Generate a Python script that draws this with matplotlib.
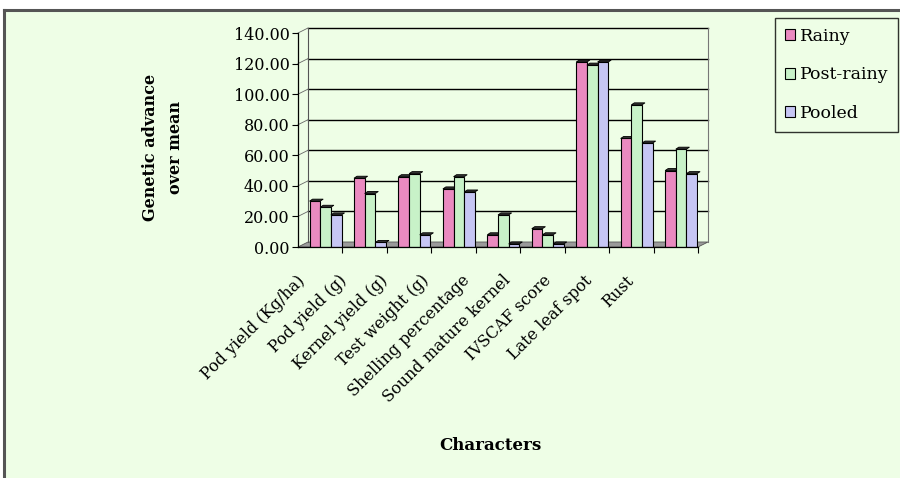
import numpy as np
import matplotlib.pyplot as plt
from matplotlib.patches import Rectangle, Polygon

categories = ["Pod yield (Kg/ha)", "Pod yield (g)", "Kernel yield (g)", "Test weight (g)",
              "Shelling percentage", "Sound mature kernel", "IVSCAF score",
              "Late leaf spot", "Rust"]
seasons = ["Rainy", "Post-rainy", "Pooled"]
rainy = [30, 45, 46, 38, 8, 12, 121, 71, 50]
post_rainy = [26, 35, 48, 46, 21, 8, 119, 93, 64]
pooled = [21, 3, 8, 36, 2, 2, 121, 68, 48]
yticks = [0, 20, 40, 60, 80, 100, 120, 140]

colors = ["#ea8ac0", "#c8f2c8", "#c6c6f4"]
bg = "#eefee6"
W, H = 900, 478
plt.rcParams["font.family"] = ["DejaVu Serif"]

fig = plt.figure(figsize=(W / 100, H / 100), dpi=100, facecolor="white")
# chart area with light green fill and grey frame on left/top
fig.patches.append(Rectangle((4 / W, 0), 1, 1 - 10 / H, transform=fig.transFigure,
                             facecolor=bg, edgecolor="none", zorder=-10))
fig.add_artist(plt.Line2D([4 / W, 4 / W], [0, 1 - 10 / H], color="#555555", lw=2.2,
                          transform=fig.transFigure, zorder=-5))
fig.add_artist(plt.Line2D([4 / W, 1], [1 - 10 / H, 1 - 10 / H], color="#555555", lw=2.2,
                          transform=fig.transFigure, zorder=-5))

x0, x1, y0, y1 = 298, 698, 247, 33
ax = fig.add_axes([x0 / W, 1 - y0 / H, (x1 - x0) / W, (y0 - y1) / H])
ax.set_zorder(2)
ax.set_facecolor("none")
ax.set_xlim(0, 9)
ax.set_ylim(0, 140)
for s in ["top", "right", "bottom"]:
    ax.spines[s].set_visible(False)
ax.spines["left"].set_linewidth(0.9)

# depth offset of the back wall in data units
px_x = (x1 - x0) / 9.0
px_y = (y0 - y1) / 140.0
dx, dy = 10 / px_x, 5 / px_y

floor = Polygon([(0, 0), (9, 0), (9 + dx, dy), (dx, dy)], closed=True,
                facecolor="#9a9a9a", edgecolor="#555555", lw=0.6, clip_on=False, zorder=1)
ax.add_patch(floor)
for v in yticks[1:]:
    ax.plot([dx, 9 + dx], [v + dy, v + dy], color="black", lw=1.0, clip_on=False, zorder=1)
    ax.plot([0, dx], [v, v + dy], color="#666666", lw=0.6, clip_on=False, zorder=1)
ax.plot([dx, dx], [dy, 140 + dy], color="#555555", lw=0.8, clip_on=False, zorder=1)
ax.plot([9 + dx, 9 + dx], [dy, 140 + dy], color="#777777", lw=0.8, clip_on=False, zorder=1)
ax.plot([0, 9], [0, 0], color="black", lw=0.9, clip_on=False, zorder=4)

idx = np.arange(len(categories))
bw = 0.24
tdx, tdy = 3 / px_x, 2 / px_y
for j, (vals, c) in enumerate(zip([rainy, post_rainy, pooled], colors)):
    xs = idx + 0.26 + j * bw
    ax.bar(xs, vals, width=bw, align="edge", color=c, edgecolor="black", lw=0.8,
           zorder=3, label=seasons[j])
    for xl, v in zip(xs, vals):
        # small 3D cap on top of each bar
        ax.add_patch(Polygon([(xl, v), (xl + bw, v), (xl + bw + tdx, v + tdy), (xl + tdx, v + tdy)],
                             closed=True, facecolor="#333333", edgecolor="black", lw=0.6,
                             clip_on=False, zorder=3))

ax.set_yticks(yticks)
ax.set_yticklabels([f"{v:.2f}" for v in yticks], fontsize=11.5)
ax.tick_params(axis="y", length=4, width=0.8, pad=2)
ax.set_xticks(np.arange(1, 10))
ax.set_xticklabels([])
ax.tick_params(axis="x", length=4, width=0.8, direction="out")

# rotated category labels
for i, name in enumerate(categories):
    fig.text((297 + 41 * i) / W, 1 - 272 / H, name, rotation=45, ha="right", va="top",
             rotation_mode="anchor", fontsize=11.5)

fig.text(163 / W, 1 - 147 / H, "Genetic advance\nover mean", rotation=90, ha="center",
         va="center", fontsize=11.5, fontweight="bold", linespacing=1.6)
fig.text(490 / W, 1 - 445 / H, "Characters", ha="center", va="center", fontsize=12,
         fontweight="bold")

leg = fig.legend(loc="upper left", bbox_to_anchor=(775 / W, 1 - 18 / H), frameon=True,
                 fancybox=False, edgecolor="black", facecolor=bg, fontsize=12.5,
                 handlelength=0.6, handleheight=0.6, handletextpad=0.3, labelspacing=1.25,
                 borderpad=0.55, borderaxespad=0)
leg.get_frame().set_linewidth(1.0)

fig.savefig("out.png", dpi=100, facecolor="white")
